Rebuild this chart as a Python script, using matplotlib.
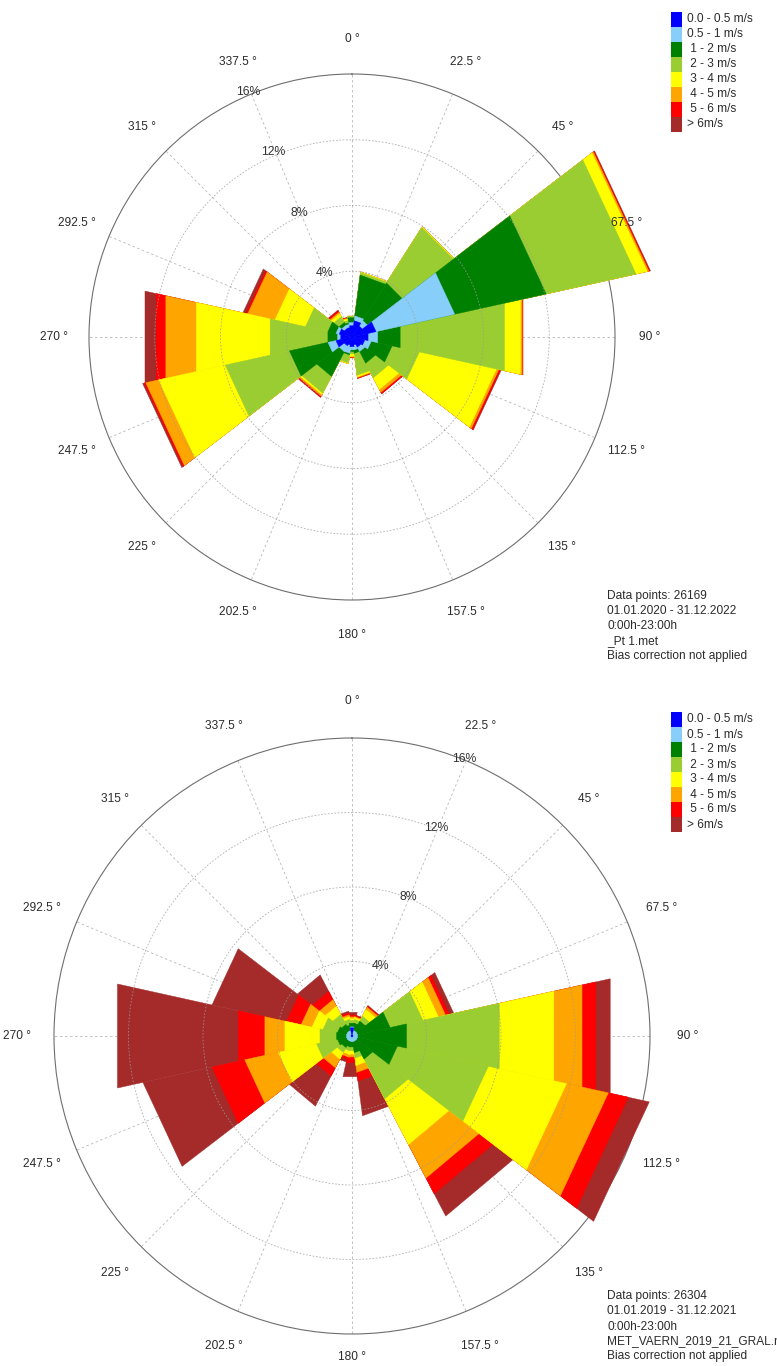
import numpy as np
import matplotlib
matplotlib.use("Agg")
import matplotlib.pyplot as plt
from matplotlib.patches import Rectangle

plt.rcParams["font.family"] = ["Liberation Sans", "DejaVu Sans"]

W, H = 777, 1366
TXT = "#2b2b2b"

# speed classes (legend) and colours
CLASSES = ["0.0 - 0.5 m/s", "0.5 - 1 m/s", " 1 - 2 m/s", " 2 - 3 m/s",
           " 3 - 4 m/s", " 4 - 5 m/s", " 5 - 6 m/s", "> 6m/s"]
COLORS = ["#0000ff", "#87cefa", "#008000", "#9acd32",
          "#ffff00", "#ffa500", "#ff0000", "#a52a2a"]
ANGLE_TICKS = np.arange(0, 360, 22.5)
RINGS = [4, 8, 12, 16]
SECTOR_WIDTH = 25.0

# ---- chart 1: _Pt 1.met, frequencies in % per speed class and sector ----
dir_1 = [0, 20, 45, 65, 90, 115, 140, 160, 180, 200, 220, 245, 270, 295, 320, 345]
top_c1 = [0.7, 1.0, 0.8, 1.5, 1.0, 0.8, 0.7, 0.5, 0.6, 0.5, 0.6, 1.0, 0.7, 0.8, 0.6, 0.6]
top_c2 = [0.2, 0.3, 0.4, 4.9, 0.6, 0.4, 0.3, 0.3, 0.2, 0.5, 0.4, 0.5, 0.2, 0.2, 0.2, 0.2]
top_c3 = [0.3, 2.5, 2.7, 5.7, 1.4, 1.3, 0.8, 0.2, 0.1, 0.1, 1.7, 2.4, 0.6, 0.5, 0.2, 0.1]
top_c4 = [0.1, 0.15, 4.0, 5.6, 6.5, 1.7, 1.0, 1.35, 0.15, 0.5, 1.15, 4.0, 3.6, 1.4, 0.4, 0.15]
top_c5 = [0.0, 0.05, 0.05, 0.7, 1.0, 4.8, 0.8, 0.1, 0.15, 0.05, 0.1, 4.15, 4.6, 1.9, 0.2, 0.1]
top_c6 = [0.0, 0.0, 0.0, 0.1, 0.1, 0.15, 0.2, 0.05, 0.05, 0.0, 0.1, 0.8, 1.9, 1.7, 0.1, 0.05]
top_c7 = [0.0, 0.0, 0.0, 0.05, 0.05, 0.1, 0.1, 0.05, 0.05, 0.0, 0.07, 0.1, 0.6, 0.1, 0.1, 0.05]
top_c8 = [0.0, 0.0, 0.0, 0.05, 0.0, 0.05, 0.0, 0.0, 0.0, 0.0, 0.03, 0.1, 0.7, 0.2, 0.05, 0.0]
info_1 = ["Data points: 26169", "01.01.2020 - 31.12.2022", "0:00h-23:00h",
          "_Pt 1.met", "Bias correction not applied"]

# ---- chart 2: MET_VAERN_2019_21_GRAL.met ----
dir_2 = [0, 20, 40, 65, 90, 115, 140, 160, 180, 200, 220, 245, 270, 295, 320, 340]
bot_c1 = [0.45, 0.05, 0.05, 0.05, 0.05, 0.05, 0.05, 0.05, 0.05, 0.05, 0.05, 0.05, 0.05, 0.05, 0.05, 0.05]
bot_c2 = [0.05, 0.25, 0.25, 0.25, 0.25, 0.25, 0.25, 0.25, 0.25, 0.25, 0.25, 0.25, 0.25, 0.25, 0.25, 0.25]
bot_c3 = [0.2, 0.4, 0.6, 1.8, 2.7, 2.2, 1.1, 0.6, 0.3, 0.3, 0.4, 0.5, 0.55, 0.5, 0.4, 0.3]
bot_c4 = [0.15, 0.2, 0.3, 1.8, 5.1, 5.0, 2.4, 0.3, 0.2, 0.2, 0.3, 1.15, 0.91, 0.8, 0.6, 0.3]
bot_c5 = [0.1, 0.1, 0.4, 0.85, 3.0, 4.3, 2.77, 0.4, 0.2, 0.2, 0.4, 2.1, 1.93, 0.6, 0.5, 0.15]
bot_c6 = [0.1, 0.05, 0.15, 0.4, 1.55, 2.3, 2.03, 0.37, 0.15, 0.15, 0.53, 1.85, 1.1, 0.6, 0.4, 0.1]
bot_c7 = [0.1, 0.05, 0.05, 0.2, 0.75, 1.1, 0.95, 0.47, 0.32, 0.15, 0.49, 1.8, 1.47, 0.8, 0.5, 0.1]
bot_c8 = [0.15, 0.05, 0.05, 0.25, 0.8, 1.15, 1.35, 1.88, 0.77, 0.15, 1.83, 3.8, 6.64, 4.1, 1.0, 0.1]
info_2 = ["Data points: 26304", "01.01.2019 - 31.12.2021", "0:00h-23:00h",
          "MET_VAERN_2019_21_GRAL.met", "Bias correction not applied"]


def px_rect(left, top, size):
    return [left / W, 1 - (top + size) / H, size / W, size / H]


def draw_rose(fig, rect, dirs, classes, pct_angle, pct_off, label_r, bottom_r):
    ax = fig.add_axes(rect, projection="polar")
    ax.set_theta_zero_location("N")
    ax.set_theta_direction(-1)
    ax.set_ylim(0, 16)
    cum = np.cumsum(np.array(classes), axis=0)
    half = np.deg2rad(SECTOR_WIDTH / 2)
    th = np.deg2rad(dirs)
    # outermost class first, inner classes painted on top
    for k in range(len(COLORS) - 1, -1, -1):
        for t, r in zip(th, cum[k]):
            if r <= 0:
                continue
            ax.fill([t - half, t - half, t + half], [0, r, r], facecolor=COLORS[k],
                    edgecolor=COLORS[k], lw=0.3, clip_on=False, zorder=1)
    ax.set_xticks(np.deg2rad(ANGLE_TICKS))
    ax.set_xticklabels([])
    ax.set_yticks(RINGS[:-1])
    ax.set_yticklabels([])
    ax.xaxis.grid(True, color="#b8b8b8", ls=(0, (3, 3)), lw=0.6)
    ax.yaxis.grid(True, color="#9c9c9c", ls=(0, (2, 2)), lw=0.6, alpha=0.8)
    ax.xaxis.set_zorder(0.5)          # spokes under the sectors
    ax.yaxis.set_zorder(1.5)          # rings faintly over them
    ax.spines["polar"].set_color("#6e6e6e")
    ax.spines["polar"].set_linewidth(0.8)
    ax.spines["polar"].set_zorder(0.6)
    for a in ANGLE_TICKS:
        r = bottom_r if a == 180 else label_r
        ax.text(np.deg2rad(a), r, f"{a:g} °", ha="center", va="center",
                fontsize=8.6, color=TXT, clip_on=False)
    for v in RINGS:
        ax.text(np.deg2rad(pct_angle), v + pct_off, f"{v}%", ha="center", va="center",
                fontsize=8.8, color="#333333", clip_on=False)
    return ax


def draw_legend(fig, top):
    for i, (lab, col) in enumerate(zip(CLASSES, COLORS)):
        y = top + 15 * i
        fig.add_artist(Rectangle((671 / W, 1 - (y + 15) / H), 11 / W, 15 / H,
                                 transform=fig.transFigure, facecolor=col, edgecolor="none"))
        fig.text(687 / W, 1 - (y + 7.5) / H, lab, ha="left", va="center",
                 fontsize=8.6, color=TXT)


def draw_info(fig, lines, y0):
    for i, s in enumerate(lines):
        fig.text(607 / W, 1 - (y0 + 15 * i) / H, s, ha="left", va="center",
                 fontsize=8.6, color=TXT)


fig = plt.figure(figsize=(W / 100, H / 100), dpi=100)

draw_rose(fig, px_rect(352 - 263, 337 - 263, 526), dir_1,
          [top_c1, top_c2, top_c3, top_c4, top_c5, top_c6, top_c7, top_c8],
          337, 0.2, 18.1, 18.1)
draw_legend(fig, 11.7)
draw_info(fig, info_1, 596)

draw_rose(fig, px_rect(352 - 298, 1036 - 298, 596), dir_2,
          [bot_c1, bot_c2, bot_c3, bot_c4, bot_c5, bot_c6, bot_c7, bot_c8],
          22, 0.05, 18.0, 17.25)
draw_legend(fig, 712)
draw_info(fig, info_2, 1296.5)

fig.savefig("out.png", dpi=100)
